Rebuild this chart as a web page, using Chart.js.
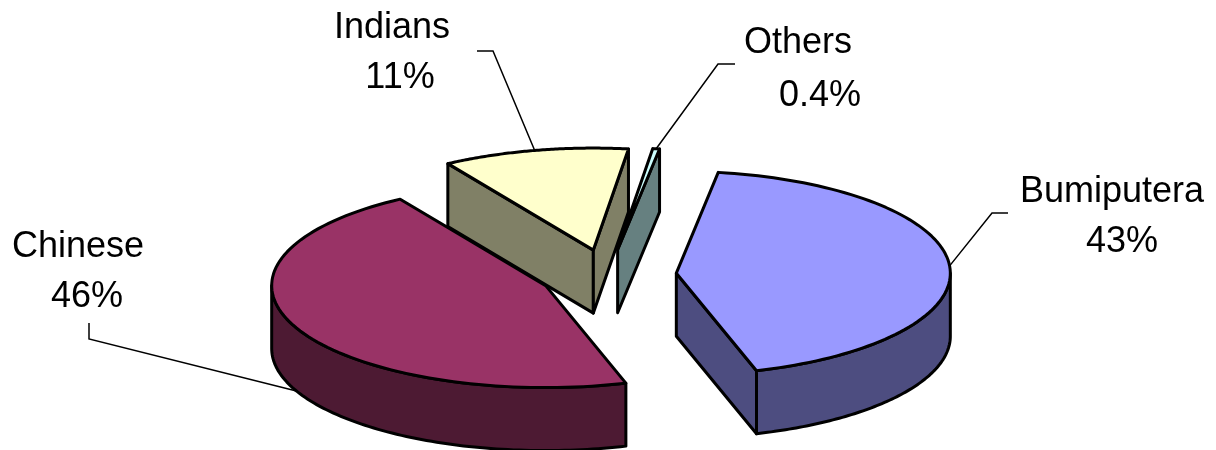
<!DOCTYPE html>
<html><head><meta charset="utf-8">
<script src="https://cdn.jsdelivr.net/npm/chart.js@4.4.1/dist/chart.umd.min.js"></script>
<style>html,body{margin:0;padding:0;background:#fff;} #wrap{width:1216px;height:450px;position:relative;}</style>
</head><body><div id="wrap"><canvas id="c"></canvas></div>
<script>
// ---- data ----
const categories = ['Bumiputera', 'Chinese', 'Indians', 'Others'];
const shares = [43, 46, 11, 0.4];
const shareLabels = ['43%', '46%', '11%', '0.4%'];

// ---- styles / layout ----
const topColors = ['#9999FF', '#993366', '#FFFFCC', '#CCFFFF'];
const sideColors = ['#4D4D80', '#4D1A33', '#808066', '#668080'];
const VIEW = { rx: 274, ry: 102, depth: 63, explode: 0.25, firstSliceAngle: 8.8 };
const LABEL_LAYOUT = [
  { x1: 1112, x2: 1122, y1: 202, y2: 252, lead: [[1008, 213], [992, 213]] },
  { x1: 78, x2: 87, y1: 257, y2: 307, lead: [[89, 323], [89, 339]] },
  { x1: 392, x2: 400, y1: 38, y2: 88, lead: [[477, 51], [493, 51]] },
  { x1: 798, x2: 820, y1: 53, y2: 106, lead: [[735, 64], [718, 64]] }
];
const FONT = '36px "Liberation Sans", Arial, sans-serif';

const pie3d = {
  id: 'pie3d',
  beforeDatasetsDraw(chart) {
    const ctx = chart.ctx;
    const arcs = chart.getDatasetMeta(0).data;
    if (!arcs.length) return false;
    const cx = arcs[0].x, cy = arcs[0].y, r0 = arcs[0].outerRadius;
    const sx = VIEW.rx / r0, sy = VIEW.ry / r0;
    const proj = (X, Y) => [cx + (X - cx) * sx, cy + (Y - cy) * sy];
    const N = 90;

    const slices = arcs.map((arc, i) => {
      const p = arc.getProps(['x', 'y', 'startAngle', 'endAngle', 'outerRadius'], true);
      const mid = (p.startAngle + p.endAngle) / 2;
      const vX = p.x + Math.cos(mid) * VIEW.explode * p.outerRadius;
      const vY = p.y + Math.sin(mid) * VIEW.explode * p.outerRadius;
      const rim = a => proj(vX + Math.cos(a) * p.outerRadius, vY + Math.sin(a) * p.outerRadius);
      return { i, s: p.startAngle, e: p.endAngle, mid, V: proj(vX, vY), rim };
    });

    const line = (pts) => { ctx.beginPath(); ctx.moveTo(pts[0][0], pts[0][1]); for (let k = 1; k < pts.length; k++) ctx.lineTo(pts[k][0], pts[k][1]); ctx.closePath(); };
    const D = VIEW.depth;
    ctx.save();
    ctx.lineJoin = 'round';
    ctx.lineWidth = 3;
    ctx.strokeStyle = '#000';

    const order = slices.slice().sort((a, b) => a.V[1] - b.V[1]);
    order.forEach(sl => {
      const M = sl.rim(sl.mid);
      const inner = [(sl.V[0] + M[0]) / 2, (sl.V[1] + M[1]) / 2];
      // radial faces
      [sl.s, sl.e].forEach(a => {
        const R = sl.rim(a);
        const d = [R[0] - sl.V[0], R[1] - sl.V[1]];
        let n = [d[1], -d[0]];
        if (n[0] * (inner[0] - sl.V[0]) + n[1] * (inner[1] - sl.V[1]) > 0) n = [-n[0], -n[1]];
        if (n[1] > 0) {
          line([sl.V, R, [R[0], R[1] + D], [sl.V[0], sl.V[1] + D]]);
          ctx.fillStyle = sideColors[sl.i]; ctx.fill(); ctx.stroke();
        }
      });
      // curved front face
      for (let k = -1; k <= 2; k++) {
        const lo = Math.max(sl.s, 2 * Math.PI * k), hi = Math.min(sl.e, 2 * Math.PI * k + Math.PI);
        if (hi > lo) {
          const topPts = [], botPts = [];
          for (let j = 0; j <= N; j++) {
            const P = sl.rim(lo + (hi - lo) * j / N);
            topPts.push(P); botPts.push([P[0], P[1] + D]);
          }
          line(topPts.concat(botPts.reverse()));
          ctx.fillStyle = sideColors[sl.i]; ctx.fill(); ctx.stroke();
        }
      }
      // top face
      const pts = [sl.V];
      for (let j = 0; j <= N; j++) pts.push(sl.rim(sl.s + (sl.e - sl.s) * j / N));
      line(pts);
      ctx.fillStyle = topColors[sl.i]; ctx.fill(); ctx.stroke();
    });

    // labels and leader lines
    ctx.lineWidth = 1.5;
    ctx.lineJoin = 'miter';
    ctx.font = FONT;
    ctx.fillStyle = '#000';
    ctx.textAlign = 'center';
    ctx.textBaseline = 'alphabetic';
    slices.forEach(sl => {
      const L = LABEL_LAYOUT[sl.i];
      let A = sl.rim(sl.mid);
      if (Math.sin(sl.mid) > 0) A = [A[0], A[1] + D];
      ctx.beginPath();
      ctx.moveTo(L.lead[0][0], L.lead[0][1]);
      ctx.lineTo(L.lead[1][0], L.lead[1][1]);
      ctx.lineTo(A[0], A[1]);
      ctx.stroke();
      ctx.fillText(chart.data.labels[sl.i], L.x1, L.y1);
      ctx.fillText(shareLabels[sl.i], L.x2, L.y2);
    });
    ctx.restore();
    return false;
  }
};

new Chart(document.getElementById('c'), {
  type: 'pie',
  data: {
    labels: categories,
    datasets: [{ data: shares, backgroundColor: topColors, borderWidth: 0 }]
  },
  options: {
    responsive: true,
    maintainAspectRatio: false,
    animation: false,
    events: [],
    rotation: VIEW.firstSliceAngle,
    layout: { padding: { top: 100, bottom: 0, left: 0, right: 0 } },
    plugins: { legend: { display: false }, tooltip: { enabled: false } }
  },
  plugins: [pie3d]
});
</script>
</body></html>
